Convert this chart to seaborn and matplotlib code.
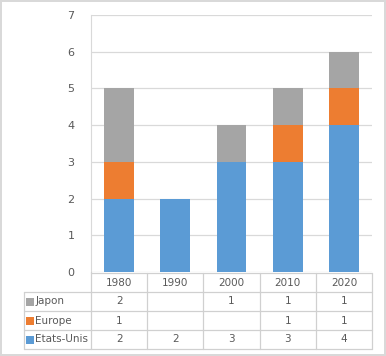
import matplotlib
matplotlib.use('Agg')
import matplotlib.pyplot as plt
import numpy as np
import pandas as pd
import seaborn as sns

years = ['1980', '1990', '2000', '2010', '2020']
etats_unis = [2, 2, 3, 3, 4]
europe = [1, 0, 0, 1, 1]
japon = [2, 0, 1, 1, 1]

series = [('Etats-Unis', etats_unis, '#5B9BD5'),
          ('Europe', europe, '#ED7D31'),
          ('Japon', japon, '#A5A5A5')]

sns.set_style('white')
plt.rcParams['font.family'] = ['DejaVu Sans']
txt = '#595959'
grid = '#D9D9D9'

W, H = 386, 356
fig = plt.figure(figsize=(W / 100, H / 100), dpi=100)
fig.patch.set_edgecolor('#D9D9D9')
fig.patch.set_linewidth(1.5)

# plot area in pixels
x0, x1, y0, y1 = 91, 372, 15, 272
ax = fig.add_axes([x0 / W, 1 - y1 / H, (x1 - x0) / W, (y1 - y0) / H])

df = pd.DataFrame({'year': years})
bottom = np.zeros(len(years))
for name, vals, col in series:
    df['v'] = vals
    sns.barplot(data=df, x='year', y='v', color=col, bottom=bottom,
                width=0.53, ax=ax, saturation=1, linewidth=0)
    bottom = bottom + np.array(vals)

ax.set_ylim(0, 7)
ax.set_xlim(-0.5, len(years) - 0.5)
ax.set_yticks(range(0, 8))
ax.yaxis.grid(True, color=grid, lw=0.9)
ax.set_axisbelow(True)
ax.tick_params(axis='y', length=0, pad=12, labelsize=8, labelcolor=txt)
ax.set_xticks([])
ax.set_xlabel('')
ax.set_ylabel('')
for s in ['top', 'right', 'bottom']:
    ax.spines[s].set_visible(False)
ax.spines['left'].set_color(grid)

# data table below the plot
tb = fig.add_axes([0, 0, 1, 1])
tb.set_xlim(0, W)
tb.set_ylim(H, 0)
tb.axis('off')
tb.patch.set_alpha(0)

cw = (x1 - x0) / len(years)
xl = 24
rows = [y1 + 1, 292, 311, 330, 349]
lc = '#D0D0D0'
# horizontal lines
tb.plot([x0, x1], [rows[0], rows[0]], color=lc, lw=0.9)
for r in rows[1:]:
    tb.plot([xl, x1], [r, r], color=lc, lw=0.9)
# vertical lines
tb.plot([xl, xl], [rows[1], rows[-1]], color=lc, lw=0.9)
tb.plot([x0, x0], [y1, rows[-1]], color=lc, lw=0.9)
for i in range(len(years)):
    xe = x0 + cw * (i + 1)
    tb.plot([xe, xe], [rows[0], rows[-1]], color=lc, lw=0.9)

for i, yr in enumerate(years):
    tb.text(x0 + cw * (i + 0.5), (rows[0] + rows[1]) / 2, yr,
            ha='center', va='center', fontsize=7.5, color=txt)

for k, (name, vals, col) in enumerate(series[::-1]):
    yc = (rows[k + 1] + rows[k + 2]) / 2
    tb.scatter([xl + 6], [yc], marker='s', s=30, color=col, linewidths=0)
    tb.text(xl + 11.5, yc, name, ha='left', va='center', fontsize=7.5, color=txt)
    for i, v in enumerate(vals):
        if v:
            tb.text(x0 + cw * (i + 0.5), yc, str(v), ha='center',
                    va='center', fontsize=7.5, color=txt)

fig.savefig('out.png', dpi=100, edgecolor=fig.get_edgecolor())
